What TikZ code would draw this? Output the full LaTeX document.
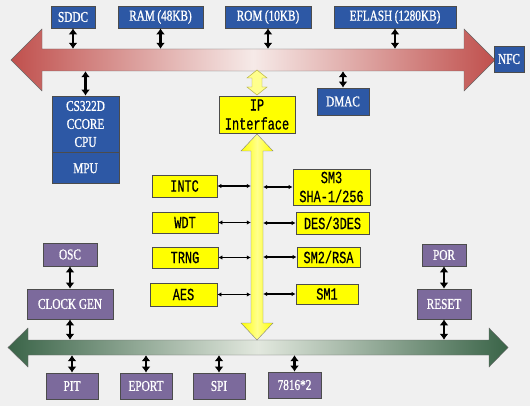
\documentclass[tikz,border=0pt]{standalone}
\usepackage{fontspec}
\setmainfont[FakeStretch=0.75, FakeBold=1]{Liberation Serif}
\newfontfamily\ipfont[FakeStretch=0.7, FakeBold=0.5]{Liberation Mono}
\usetikzlibrary{arrows.meta}
\definecolor{chipblue}{RGB}{45,88,165}
\definecolor{chiplilac}{RGB}{124,106,156}
\definecolor{ipyellow}{RGB}{255,255,0}
\definecolor{busred}{RGB}{192,80,77}
\definecolor{busredlight}{RGB}{246,234,232}
\definecolor{busgreen}{RGB}{58,100,72}
\definecolor{busgreenlight}{RGB}{226,232,222}
\definecolor{paper}{RGB}{240,240,240}

\begin{document}
\begin{tikzpicture}[x=1pt, y=-1pt,
		box/.style={draw=black!70, line width=0.8pt, inner sep=0pt, align=center, font=\fontsize{15}{18}\selectfont},
		bluebox/.style={box, fill=chipblue, text=white},
		lilacbox/.style={box, fill=chiplilac, text=white},
		ipbox/.style={box, fill=ipyellow, text=black, font=\ipfont\fontsize{17}{19}\selectfont},
		wh/.style 2 args={minimum width=#1pt, minimum height=#2pt},
		bus/.style={inner sep=0pt},
		link/.style={{Latex[length=6pt,width=9pt]}-{Latex[length=6pt,width=9pt]}, line width=2.6pt},
		tap/.style={{Latex[length=4pt,width=4.5pt]}-{Latex[length=4pt,width=4.5pt]}, line width=1.3pt}]
			\fill[paper] (0,0) rectangle (530,406);
			\draw[draw=black!60, left color=busred, right color=busred, middle color=busredlight] (11,60) -- (42,29) -- (42,49) -- (464,49) -- (464,29) -- (495,60) -- (464,91) -- (464,71) -- (42,71) -- (42,91) -- cycle;
			\draw[draw=black!60, left color=busgreen, right color=busgreen, middle color=busgreenlight] (8,347.5) -- (28,328) -- (28,340) -- (489,340) -- (489,328) -- (508,347.5) -- (489,367) -- (489,355) -- (28,355) -- (28,367) -- cycle;
			\draw[draw=black!50, left color=ipyellow, right color=ipyellow, middle color=ipyellow!45] (257,134) -- (273,151) -- (263,151) -- (263,323) -- (273,323) -- (257,340) -- (241,323) -- (251,323) -- (251,151) -- (241,151) -- cycle;
			\draw[draw=olive!70, fill=ipyellow!45] (257,70) -- (267,78) -- (262,78) -- (262,87) -- (267,87) -- (257,95) -- (247,87) -- (252,87) -- (252,78) -- (247,78) -- cycle;
			\node[bus, wh={422}{22}] (redbus) at (253,60) {};
			\node[bus, wh={12}{172}] (ipbus) at (257,237) {};
			\node[bus, wh={461}{15}] (greenbus) at (258.5,347.5) {};
			\node[bluebox, wh={44}{22}] (sddc) at (73,17) {SDDC};
			\node[bluebox, wh={85}{22}] (ram) at (160.5,17) {RAM\,(48KB)};
			\node[bluebox, wh={86}{22}] (rom) at (268,17) {ROM\,(10KB)};
			\node[bluebox, wh={122}{22}] (eflash) at (395,17) {EFLASH\,(1280KB)};
			\node[bluebox, wh={30}{26}] (nfc) at (509,59) {NFC};
			\node[bluebox, wh={67}{56}] (cpu) at (85.5,124) {CS322D\\CCORE\\CPU};
			\node[bluebox, wh={67}{31}, anchor=north] (mpu) at (cpu.south) {MPU};
			\node[bluebox, wh={52}{27}] (dmac) at (343,101.5) {DMAC};
			\node[ipbox, wh={76}{37}] (ip) at (257,114.5) {IP\\Interface};
			\node[ipbox, wh={65}{22}] (intc) at (184.5,186) {INTC};
			\node[ipbox, wh={66}{21}] (wdt) at (185,222.5) {WDT};
			\node[ipbox, wh={66}{21}] (trng) at (185,257.5) {TRNG};
			\node[ipbox, wh={67}{23}] (aes) at (183.5,294.5) {AES};
			\node[ipbox, wh={77}{36}] (sm3) at (331.5,187) {SM3\\SHA-1/256};
			\node[ipbox, wh={73}{22}] (des) at (332.5,223) {DES/3DES};
			\node[ipbox, wh={63}{20}] (sm2) at (328.5,257) {SM2/RSA};
			\node[ipbox, wh={62}{20}] (sm1) at (327,294) {SM1};
			\node[lilacbox, wh={54}{23}] (osc) at (70,254.5) {OSC};
			\node[lilacbox, wh={86}{30}] (clk) at (70,304) {CLOCK GEN};
			\node[lilacbox, wh={44}{22}] (por) at (444,255) {POR};
			\node[lilacbox, wh={54}{30}] (reset) at (444,304) {RESET};
			\node[lilacbox, wh={52}{26}] (pit) at (72,386) {PIT};
			\node[lilacbox, wh={52}{26}] (eport) at (146,386) {EPORT};
			\node[lilacbox, wh={52}{26}] (spi) at (219,386) {SPI};
			\node[lilacbox, wh={53}{26}] (iso) at (294.5,385) {7816*2};
			\draw[link] (sddc) -- (sddc |- redbus.north);
			\draw[link] (ram) -- (ram |- redbus.north);
			\draw[link] (rom) -- (rom |- redbus.north);
			\draw[link] (eflash) -- (eflash |- redbus.north);
			\draw[link] (cpu) -- (cpu |- redbus.south);
			\draw[link] (dmac) -- (dmac |- redbus.south);
			\draw[link] (osc) -- (clk);
			\draw[link] (clk) -- (clk |- greenbus.north);
			\draw[link] (por) -- (reset);
			\draw[link] (reset) -- (reset |- greenbus.north);
			\draw[link] (pit) -- (pit |- greenbus.south);
			\draw[link] (eport) -- (eport |- greenbus.south);
			\draw[link] (spi) -- (spi |- greenbus.south);
			\draw[link] (iso) -- (iso |- greenbus.south);
			\draw[tap] (intc) -- (intc -| ipbus.west);
			\draw[tap] (wdt) -- (wdt -| ipbus.west);
			\draw[tap] (trng) -- (trng -| ipbus.west);
			\draw[tap] (aes) -- (aes -| ipbus.west);
			\draw[tap] (sm3) -- (sm3 -| ipbus.east);
			\draw[tap] (des) -- (des -| ipbus.east);
			\draw[tap] (sm2) -- (sm2 -| ipbus.east);
			\draw[tap] (sm1) -- (sm1 -| ipbus.east);
		\end{tikzpicture}
\end{document}
